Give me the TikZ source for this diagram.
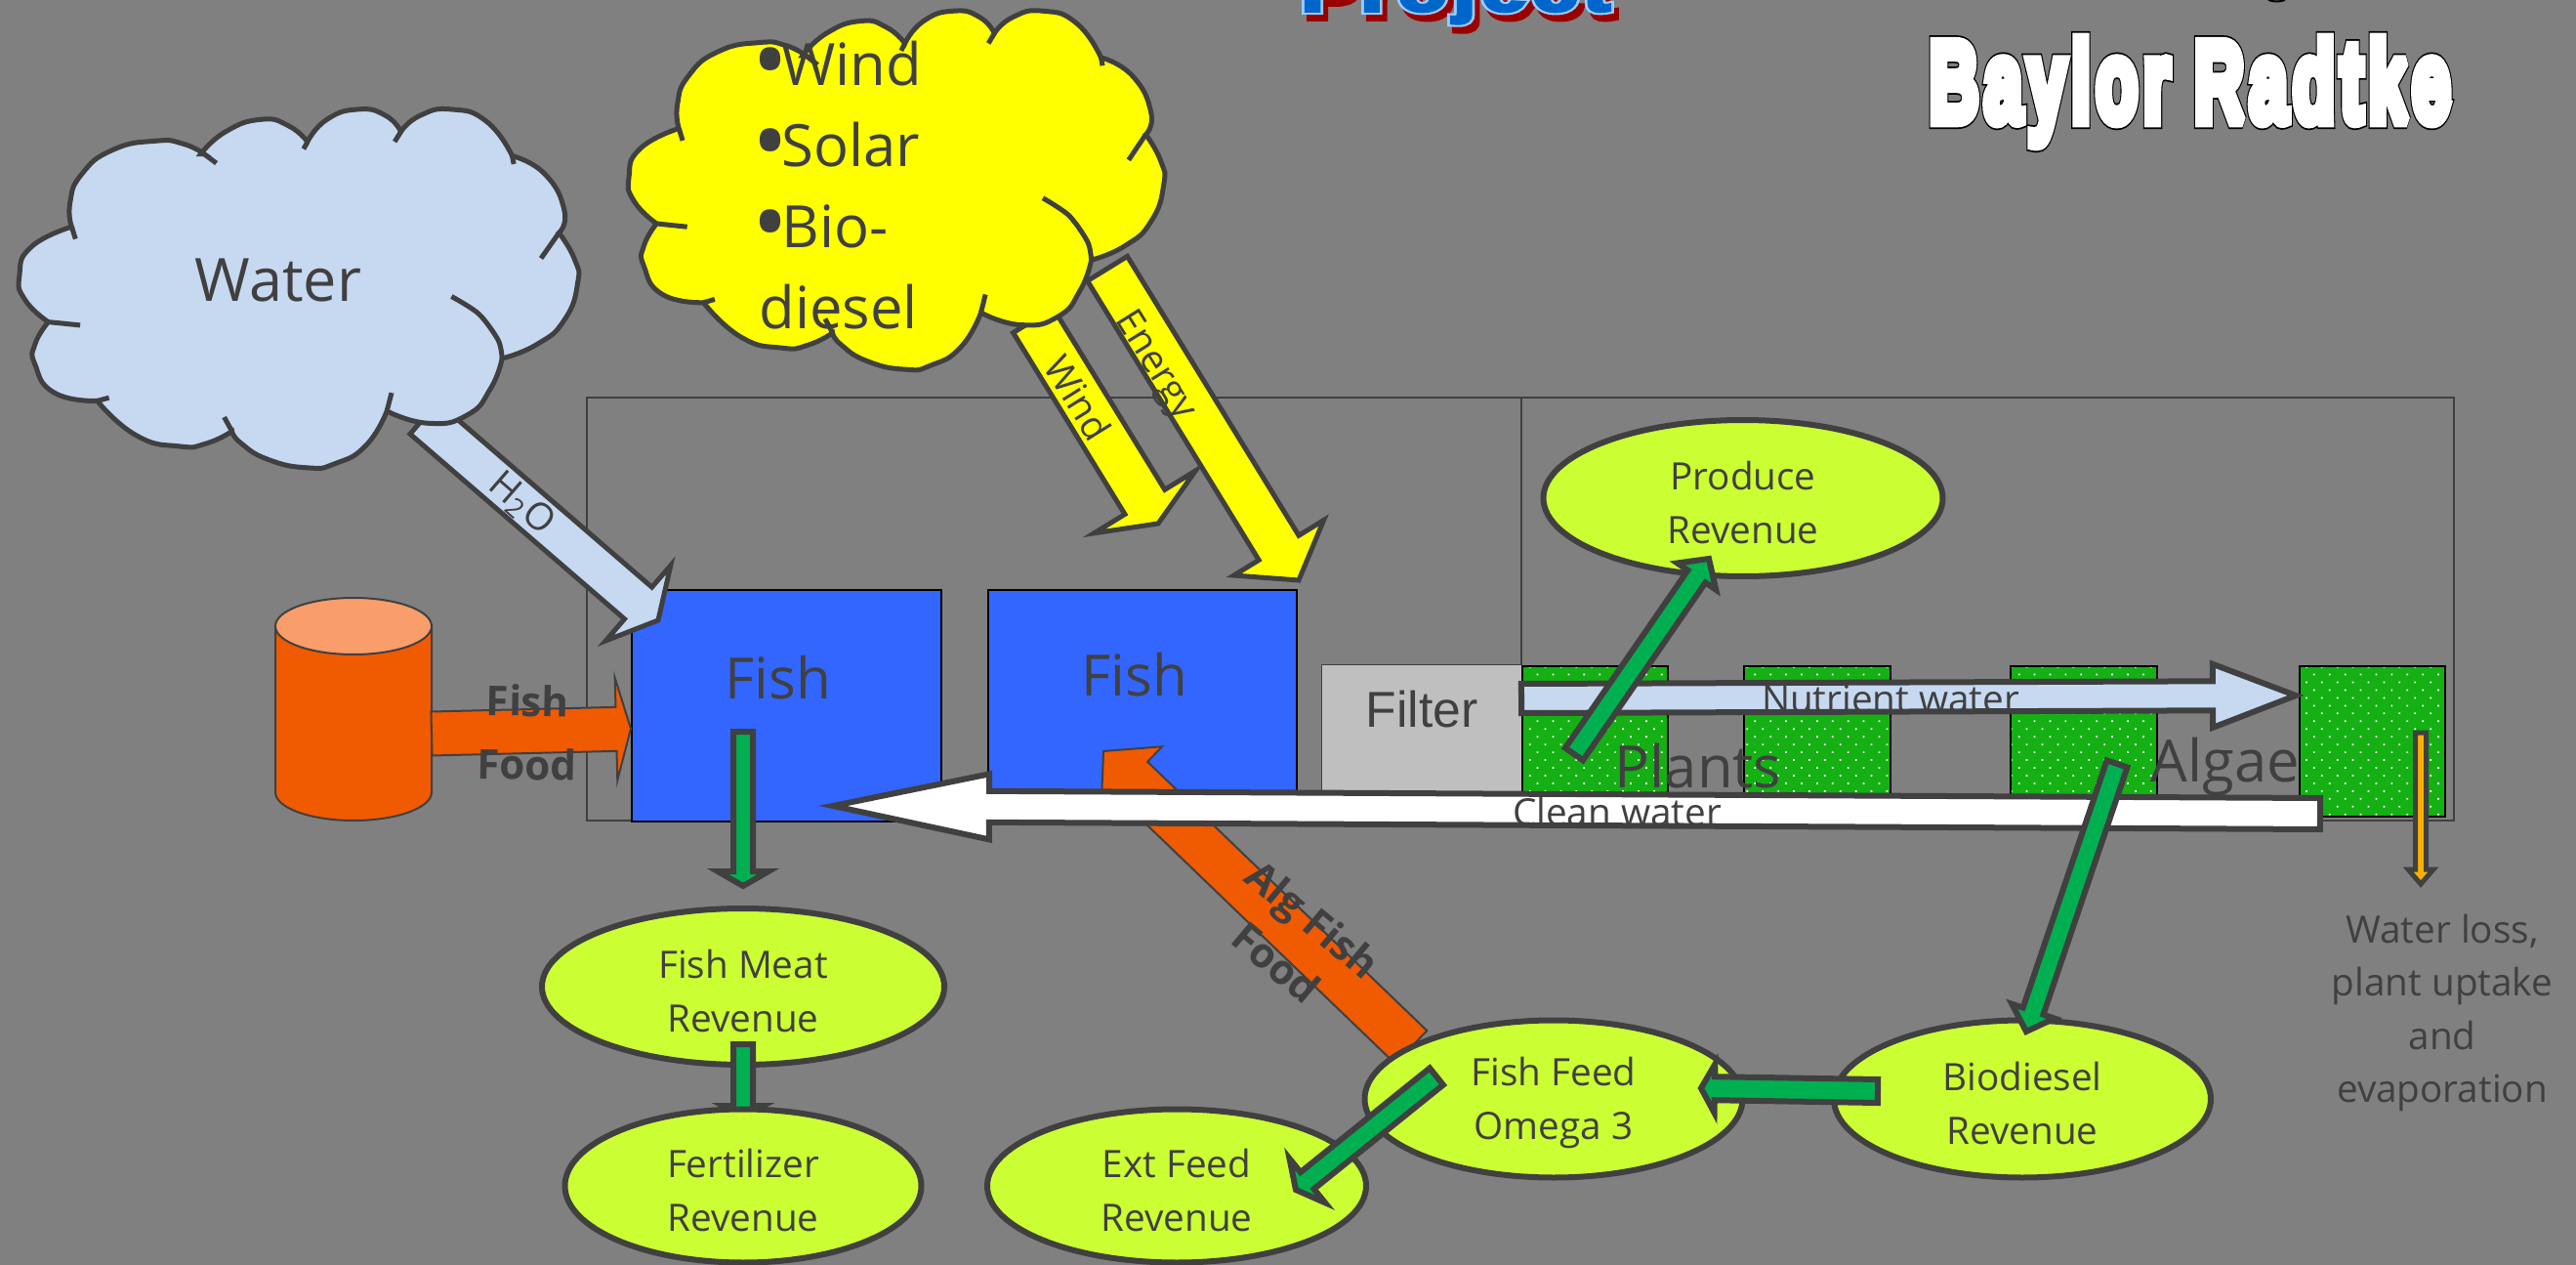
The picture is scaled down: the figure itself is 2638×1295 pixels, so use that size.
\documentclass[tikz,border=0pt]{standalone}
\usepackage{fontspec}
\setmainfont{Open Sans}
\newfontfamily\arialfont[LetterSpace=8]{Liberation Sans}
\usetikzlibrary{calc,shapes.geometric,patterns.meta}
\definecolor{slate}{HTML}{808080}
\definecolor{ink}{HTML}{404040}
\definecolor{paleblue}{HTML}{C6D9F1}
\definecolor{tankblue}{HTML}{3366FF}
\definecolor{plantgreen}{HTML}{14B014}
\definecolor{flowgreen}{HTML}{00B050}
\definecolor{lime}{HTML}{CCFF33}
\definecolor{rust}{HTML}{F05A00}
\definecolor{peach}{HTML}{F99D6B}
\definecolor{amber}{HTML}{FFB000}
\definecolor{sun}{HTML}{FFFF00}
\tikzset{
    flow/.style={draw=ink,line width=0.6mm,line join=miter},
    greenflow/.style={flow,fill=flowgreen},
    thinflow/.style={draw=ink,line width=0.2mm,fill=rust},
    tankbox/.style={draw=black,line width=0.15mm,fill=tankblue,anchor=north west,inner sep=0pt},
    plantbox/.style={draw=black,line width=0.15mm,preaction={fill=plantgreen},
        pattern={Dots[distance=3.2pt,radius=0.35pt,angle=45]},pattern color=white,anchor=north west,inner sep=0pt},
    revenue/.style={ellipse,draw=ink,fill=lime,line width=0.6mm,inner sep=0pt,text=ink,align=center,
        font=\fontsize{11}{15.6}\selectfont},
    tag/.style={text=ink,inner sep=0pt,align=center,font=\fontsize{11}{15.6}\selectfont},
    boldtag/.style={text=ink,inner sep=0pt,align=center,font=\fontsize{12}{18}\selectfont\bfseries},
    bigtag/.style={text=ink,inner sep=0pt,font=\fontsize{17}{20}\selectfont},
    wordart/.style={anchor=base west,inner sep=0pt,font=\arialfont\bfseries},
}
\newcommand{\lift}{\rule{0pt}{10.8pt}}
% stroke width, stroke colour, fill colour (rgb), then the text
\newcommand{\strokedtext}[4]{\special{pdf:code q 2 Tr #1 w 2 M #2 RG #3 rg}#4\special{pdf:code Q}}
\newcommand{\fatbullet}{\makebox[6.5pt][c]{\fontsize{28}{23.6}\selectfont\raisebox{-2.4pt}{•}}}
% tail, tip, shaft width, head width, head length (all in 0.1mm)
\newcommand{\flowarrow}[6][flow]{%
    \coordinate (neck) at ($(#3)!{#6*0.1mm}!(#2)$);
    \draw[#1] ($(#2)!{#4*0.05mm}!90:(#3)$) -- ($(neck)!{#4*0.05mm}!90:(#3)$)
        -- ($(neck)!{#5*0.05mm}!90:(#3)$) -- (#3) -- ($(neck)!{#5*0.05mm}!-90:(#3)$)
        -- ($(neck)!{#4*0.05mm}!-90:(#3)$) -- ($(#2)!{#4*0.05mm}!-90:(#3)$) -- cycle;
}
\newcommand{\puffcloud}[2]{%
    \begin{scope}[#2]
        \draw[draw=ink,line width=0.5mm,fill=#1]
            plot[smooth,tension=0.9] coordinates {(62,795) (32,740) (25,680) (40,610) (92,560)}
            -- plot[smooth,tension=0.9] coordinates {(92,560) (90,500) (105,430) (145,370) (200,348) (235,355) (262,380)}
            -- plot[smooth,tension=0.9] coordinates {(258,380) (290,325) (335,295) (370,310) (395,350)}
            -- plot[smooth,tension=0.9] coordinates {(395,350) (420,295) (460,270) (495,285) (515,325)}
            -- plot[smooth,tension=0.9] coordinates {(515,325) (540,285) (580,270) (625,300) (658,385)}
            -- plot[smooth,tension=0.9] coordinates {(658,385) (700,430) (725,520) (718,575)}
            -- plot[smooth,tension=0.9] coordinates {(718,575) (738,640) (742,700) (725,790) (690,850) (645,885)}
            -- plot[smooth,tension=0.9] coordinates {(645,885) (630,960) (600,1025) (550,1045) (497,1015)}
            -- plot[smooth,tension=0.9] coordinates {(497,1015) (470,1100) (430,1145) (395,1155) (345,1135) (310,1095) (298,1065)}
            -- plot[smooth,tension=0.9] coordinates {(298,1065) (265,1095) (230,1102) (175,1075) (125,990)}
            -- plot[smooth,tension=0.9] coordinates {(125,990) (70,970) (45,900) (45,850) (62,795)} -- cycle;
        \draw[draw=ink,line width=0.5mm] (262,380) -- (278,403) (395,350) -- (390,368) (515,325) -- (507,350)
            (658,385) -- (660,405) (718,575) -- (695,638) (503,970) -- (497,1015) (288,1030) -- (298,1065)
            (125,990) -- (140,982) (62,795) -- (103,803) (92,560) -- (97,590);
        \draw[draw=ink,line width=0.5mm] plot[smooth] coordinates {(580,732) (615,775) (640,840) (645,885)};
    \end{scope}
}
\begin{document}
\begin{tikzpicture}[x=0.1mm,y=-0.1mm]
    \fill[slate] (0,0) rectangle (2638,1295);
    \useasboundingbox (0,0) rectangle (2638,1295);
    \clip (0,0) rectangle (2638,1295);
    % titles, cut by the top edge
    \node[wordart,font=\arialfont\fontsize{33}{33}\selectfont\bfseries] (titleback) at (1975,124)
        {\strokedtext{4.6}{0 0 0}{0 0 0}{\scalebox{.605}[1]{Baylor Radtke}}};
    \node[wordart,font=\arialfont\fontsize{33}{33}\selectfont\bfseries] (title) at (1975,124)
        {\strokedtext{3.6}{1 1 1}{1 1 1}{\scalebox{.605}[1]{Baylor Radtke}}};
    \node[wordart,font=\arialfont\fontsize{17.6}{18}\selectfont\bfseries] (projshadow) at (1337,18)
        {\strokedtext{2.2}{0.6 0 0}{0.6 0 0}{\scalebox{1.32}[1]{Project}}};
    \node[wordart,font=\arialfont\fontsize{17.6}{18}\selectfont\bfseries] (projectback) at (1332,11)
        {\strokedtext{2.2}{0.6 0.8 1}{0.6 0.8 1}{\scalebox{1.32}[1]{Project}}};
    \node[wordart,font=\arialfont\fontsize{17.6}{18}\selectfont\bfseries] (project) at (1332,11)
        {\strokedtext{1}{0 0.4 0.8}{0 0.4 0.8}{\scalebox{1.32}[1]{Project}}};
    \draw[black,line width=0.2mm] (2323,0) .. controls (2328,2) and (2335,2) .. (2340,0);
    % frames
    \draw[ink,line width=0.13mm] (601,407) rectangle (1558,840);
    \draw[ink,line width=0.13mm] (1558,407) rectangle (2513,840);
    % tanks
    \node[tankbox,minimum width=31.7mm,minimum height=23.7mm] (fishone) at (646,603) {};
    \node[tankbox,minimum width=31.6mm,minimum height=23.7mm] (fishtwo) at (1011,603) {};
    \node[draw=ink,line width=0.13mm,fill=gray!50,anchor=north west,inner sep=0pt,minimum width=20.5mm,minimum height=15.5mm] (filter) at (1353,680) {};
    \node[plantbox,minimum width=14.9mm,minimum height=15.5mm] (plantone) at (1558,681) {};
    \node[plantbox,minimum width=15mm,minimum height=15.5mm] (planttwo) at (1785,681) {};
    \node[plantbox,minimum width=15mm,minimum height=15.5mm] (plantthree) at (2058,681) {};
    \node[plantbox,minimum width=14.9mm,minimum height=15.4mm] (algaebox) at (2354,681) {};
    \node[bigtag,font=\fontsize{16.6}{20}\selectfont] (fishonelbl) at (797,694) {Fish};
    \node[bigtag,font=\fontsize{16.6}{20}\selectfont] (fishtwolbl) at (1162,691) {Fish};
    \node[inner sep=0pt,text=ink,font=\fontspec{Liberation Sans}\fontsize{14.7}{18}\selectfont] (filterlbl) at (1456,726) {Filter};
    \node[bigtag] (plantslbl) at (1739,784) {Plants};
    \node[bigtag] (algaelbl) at (2279,785) {Algae};
    % water and energy in
    \coordinate (watertail) at (434,428);
    \coordinate (watertip) at (674,635);
    \coordinate (windtail) at (1058,328);
    \coordinate (windtip) at (1186,536);
    \coordinate (energytail) at (1134,275);
    \coordinate (energytip) at (1330,594);
    \flowarrow[flow,line width=0.5mm,fill=paleblue]{watertail}{watertip}{43}{102}{27}
    \flowarrow[flow,line width=0.5mm,fill=sun]{windtail}{windtip}{48}{122}{26}
    \flowarrow[flow,line width=0.5mm,fill=sun]{energytail}{energytip}{48}{108}{39}
    \puffcloud{paleblue}{xscale=.7972,yscale=.4146}
    \puffcloud{sun}{shift={(625,-100.7)},xscale=.7637,yscale=.4146}
    \node[bigtag,font=\fontsize{17.4}{20}\selectfont] (waterlbl) at (285,287) {Water};
    \node[bigtag,align=left,font=\fontsize{17}{23.6}\selectfont,anchor=west] (sources) at (777,190) {\fatbullet Wind\\\fatbullet Solar\\\fatbullet Bio-\\diesel};
    \node[tag,rotate=-41] (htwoolbl) at (534,516) {H\textsubscript{2}O};
    \node[tag,rotate=-58] (windlbl) at (1104,407) {Wind};
    \node[tag,rotate=-58] (energylbl) at (1182,375) {Energy};
    % feed
    \draw[ink,line width=0.2mm,fill=rust] (282,641) -- (282,811) arc[start angle=180,end angle=360,x radius=8mm,y radius=2.9mm] -- (442,641) -- cycle;
    \draw[ink,line width=0.2mm,fill=peach] (362,641) ellipse [x radius=8mm,y radius=2.9mm];
    \coordinate (foodtail) at (442,751);
    \coordinate (foodtip) at (646,746);
    \flowarrow[thinflow]{foodtail}{foodtip}{45}{105}{15}
    \node[boldtag,rotate=-1,font=\fontsize{12}{18.5}\selectfont\bfseries] (foodlbl) at (540,750) {Fish\\Food};
    \coordinate (algtail) at (1445,1072);
    \coordinate (algtip) at (1130,769);
    \flowarrow[thinflow]{algtail}{algtip}{47}{90}{40}
    \node[boldtag,rotate=-40,font=\fontsize{12}{16.5}\selectfont\bfseries] (alglbl) at (1326,963) {Alg Fish\\Food};
    % loop water
    \coordinate (nutrienttail) at (1558,715);
    \coordinate (nutrienttip) at (2351,712);
    \flowarrow[flow,fill=paleblue]{nutrienttail}{nutrienttip}{30}{65}{85}
    \node[tag] (nutrientlbl) at (1936,716) {Nutrient water};
    \coordinate (cleantail) at (2376,833);
    \coordinate (cleantip) at (853,825);
    \flowarrow[flow,fill=white]{cleantail}{cleantip}{32}{67}{160}
    \node[tag] (cleanlbl) at (1656,831) {Clean water};
    % revenue
    \node[revenue,minimum width=41.2mm,minimum height=16mm] (meat) at (761,1010) {\lift Fish Meat\\Revenue};
    \coordinate (fishtail) at (761,749);
    \coordinate (fishtip) at (761,907);
    \flowarrow[greenflow]{fishtail}{fishtip}{20}{52}{15}
    \coordinate (fertilizertail) at (761,1069);
    \coordinate (fertilizertip) at (761,1142);
    \flowarrow[greenflow]{fertilizertail}{fertilizertip}{20}{40}{10}
    \node[revenue,minimum width=36.5mm,minimum height=15.7mm] (fertilizer) at (761,1214) {\lift Fertilizer\\Revenue};
    \node[revenue,minimum width=38.8mm,minimum height=15.7mm] (extfeed) at (1205,1214) {\lift Ext Feed\\Revenue};
    \node[revenue,minimum width=38.7mm,minimum height=16.1mm] (omega) at (1591,1125) {\lift Fish Feed\\Omega 3};
    \node[revenue,minimum width=38.6mm,minimum height=16.1mm] (biodiesel) at (2071,1125) {\lift Biodiesel\\Revenue};
    \node[revenue,minimum width=40.9mm,minimum height=16mm] (produce) at (1785,510) {\lift Produce\\Revenue};
    \coordinate (producetail) at (1612,772);
    \coordinate (producetip) at (1750,572);
    \flowarrow[greenflow]{producetail}{producetip}{22}{48}{22}
    \coordinate (dieseltail) at (2168,782);
    \coordinate (dieseltip) at (2075,1056);
    \flowarrow[greenflow]{dieseltail}{dieseltip}{22}{46}{22}
    \coordinate (omegatail) at (1923,1117);
    \coordinate (omegatip) at (1742,1114);
    \flowarrow[greenflow]{omegatail}{omegatip}{24}{50}{14}
    \coordinate (exttail) at (1471,1102);
    \coordinate (exttip) at (1327,1218);
    \flowarrow[greenflow]{exttail}{exttip}{22}{58}{15}
    % losses
    \coordinate (losstail) at (2479,750);
    \coordinate (losstip) at (2479,905);
    \flowarrow[flow,line width=0.5mm,fill=amber]{losstail}{losstip}{11}{26}{15}
    \node[tag,font=\fontsize{11}{15.4}\selectfont] (losslbl) at (2501,1037) {Water loss,\\plant uptake\\and\\evaporation};
\end{tikzpicture}
\end{document}
